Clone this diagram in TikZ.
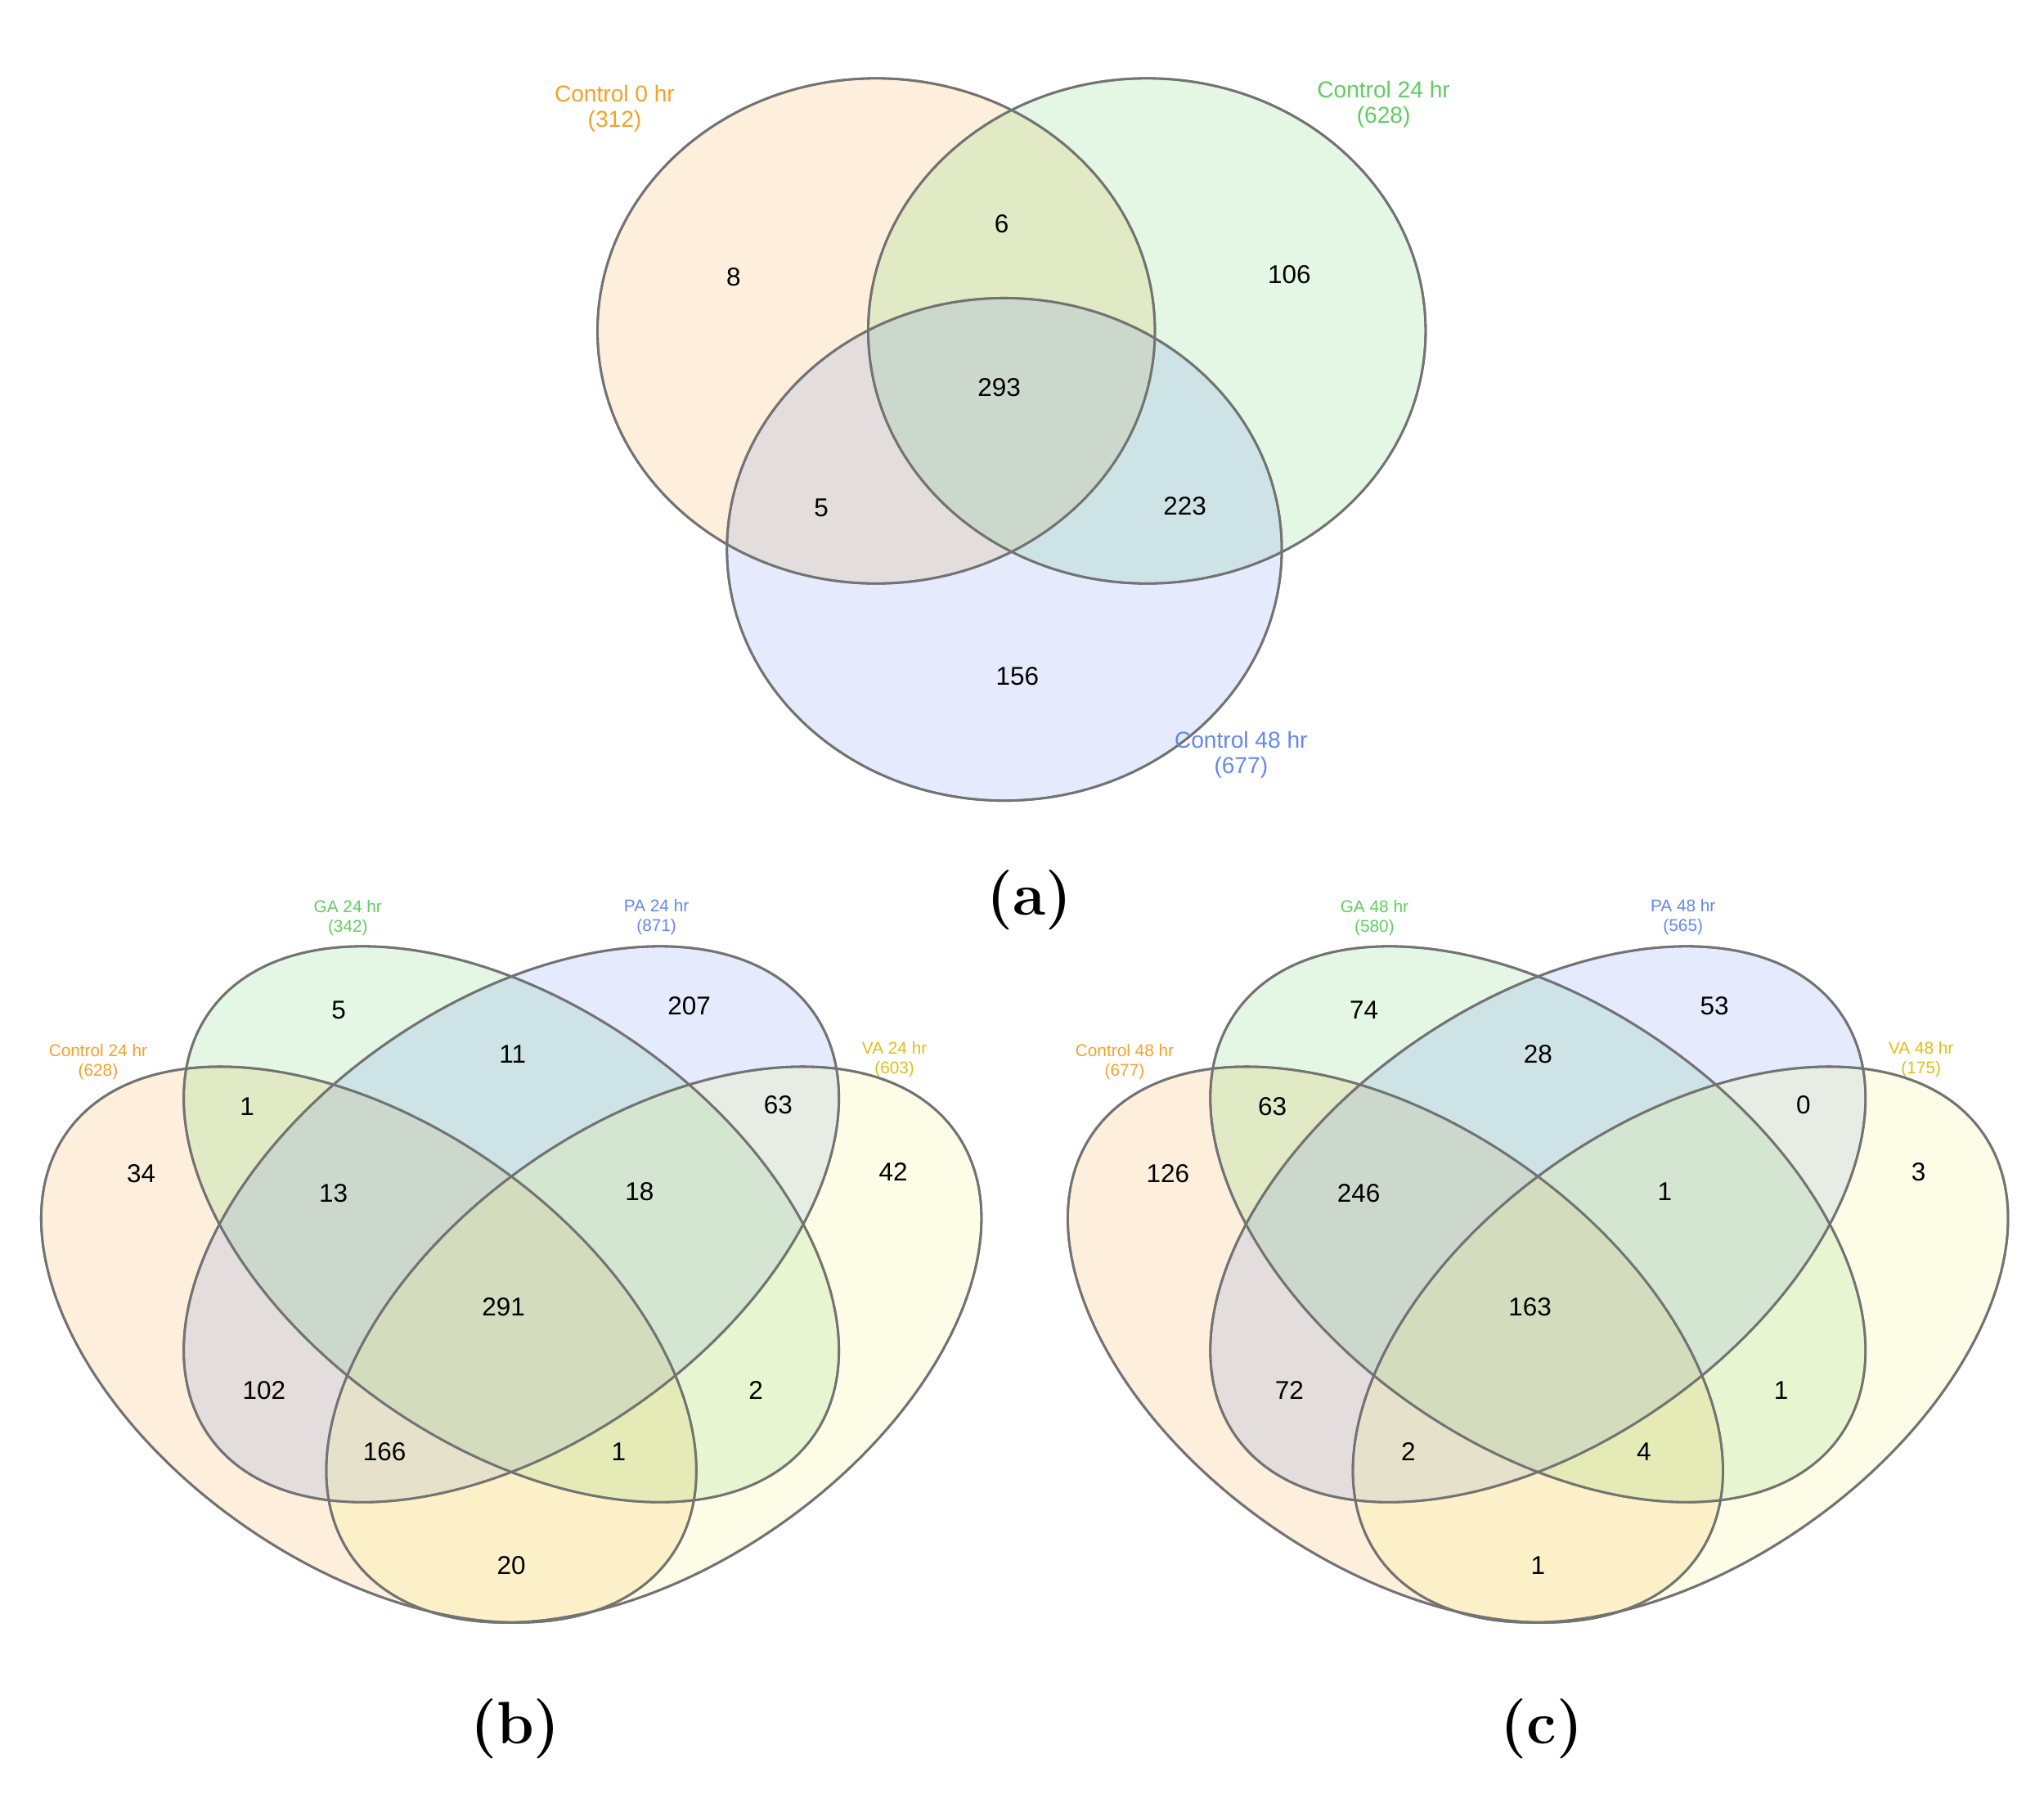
\documentclass[tikz,border=0pt]{standalone}
\usepackage{fontspec}
\setmainfont{Liberation Sans}
\newfontfamily\panelfont{Latin Modern Roman}
\usetikzlibrary{positioning}
\definecolor{ctl_orange}{RGB}{246,160,40}
\definecolor{ga_green}{RGB}{95,205,95}
\definecolor{pa_blue}{RGB}{100,135,240}
\definecolor{va_yellow}{RGB}{225,190,20}
\definecolor{fill_yellow}{RGB}{245,245,110}
\definecolor{edge_grey}{RGB}{115,115,115}

\begin{document}
\begin{tikzpicture}[
                        x=0.01cm, y=-0.01cm,
                        set/.style={draw=edge_grey, line width=0.5pt, fill opacity=0.17},
                        count/.style={font=\fontsize{5.6}{6}\selectfont, inner sep=0pt},
                        big_label/.style={font=\fontsize{5}{5.6}\selectfont, align=center, inner sep=0pt},
                        small_label/.style={font=\fontsize{3.7}{4.2}\selectfont, align=center, inner sep=0pt},
                        panel/.style={font=\panelfont\bfseries\fontsize{13}{15}\selectfont, inner sep=0pt},
                    ]
                        \useasboundingbox (0,0) rectangle (1563,1378);

                        % panel a
                        \fill[set, fill=ctl_orange] (670,253) ellipse [x radius=2.13cm, y radius=1.93cm];
                        \fill[set, fill=ga_green] (877,253) ellipse [x radius=2.13cm, y radius=1.93cm];
                        \fill[set, fill=pa_blue] (768,420) ellipse [x radius=2.12cm, y radius=1.92cm];
                        \draw[set] (670,253) ellipse [x radius=2.13cm, y radius=1.93cm];
                        \draw[set] (877,253) ellipse [x radius=2.13cm, y radius=1.93cm];
                        \draw[set] (768,420) ellipse [x radius=2.12cm, y radius=1.92cm];

                        \node[big_label, ctl_orange] (ctl0_label) at (470,83) {Control 0 hr\\(312)};
                        \node[big_label, ga_green] (ctl24_label) at (1058,80) {Control 24 hr\\(628)};
                        \node[big_label, pa_blue] (ctl48_label) at (949,577) {Control 48 hr\\(677)};
                        \foreach \name/\pos/\val in {a_only0/{(561,212)}/8, a_01/{(766,171)}/6, a_only24/{(986,210)}/106,
                                a_all/{(764,296)}/293, a_048/{(628,388)}/5, a_2448/{(906,387)}/223, a_only48/{(778,517)}/156} {
                            \node[count] (\name) at \pos {\val};
                        }
                        \node[panel] (panel_a) at (787,688) {(a)};

                        % panels b and c
                        \foreach \shiftx/\tag/\hr/\nctl/\nga/\npa/\nva in {0/b/24/628/342/871/603, 785/c/48/677/580/565/175} {
                            \begin{scope}[shift={(\shiftx,0)}]
                                \fill[set, fill=ctl_orange, rotate around={-35:(282,1028)}] (282,1028) ellipse [x radius=2.82cm, y radius=1.68cm];
                                \fill[set, fill=ga_green, rotate around={-35:(391,936)}] (391,936) ellipse [x radius=2.82cm, y radius=1.68cm];
                                \fill[set, fill=pa_blue, rotate around={35:(391,936)}] (391,936) ellipse [x radius=2.82cm, y radius=1.68cm];
                                \fill[set, fill=fill_yellow, rotate around={35:(500,1028)}] (500,1028) ellipse [x radius=2.82cm, y radius=1.68cm];
                                \draw[set, rotate around={-35:(282,1028)}] (282,1028) ellipse [x radius=2.82cm, y radius=1.68cm];
                                \draw[set, rotate around={-35:(391,936)}] (391,936) ellipse [x radius=2.82cm, y radius=1.68cm];
                                \draw[set, rotate around={35:(391,936)}] (391,936) ellipse [x radius=2.82cm, y radius=1.68cm];
                                \draw[set, rotate around={35:(500,1028)}] (500,1028) ellipse [x radius=2.82cm, y radius=1.68cm];

                                \node[small_label, ctl_orange] (ctl_label_\tag) at (75,812) {Control \hr\ hr\\(\nctl)};
                                \node[small_label, ga_green] (ga_label_\tag) at (266,702) {GA \hr\ hr\\(\nga)};
                                \node[small_label, pa_blue] (pa_label_\tag) at (502,701) {PA \hr\ hr\\(\npa)};
                                \node[small_label, va_yellow] (va_label_\tag) at (684,810) {VA \hr\ hr\\(\nva)};
                                \node[panel] (panel_\tag) at (394,1322) {(\tag)};
                            \end{scope}
                        }

                        % counts b
                        \foreach \name/\pos/\val in {b1/{(259,772)}/5, b2/{(527,769)}/207, b3/{(392,806)}/11, b4/{(189,846)}/1,
                                b5/{(595,845)}/63, b6/{(108,897)}/34, b7/{(255,912)}/13, b8/{(489,911)}/18, b9/{(683,896)}/42,
                                b10/{(385,999)}/291, b11/{(202,1063)}/102, b12/{(578,1063)}/2, b13/{(294,1110)}/166,
                                b14/{(473,1110)}/1, b15/{(391,1197)}/20} {
                            \node[count] (\name) at \pos {\val};
                        }
                        % counts c
                        \foreach \name/\pos/\val in {c1/{(1043,772)}/74, c2/{(1311,769)}/53, c3/{(1176,806)}/28, c4/{(973,846)}/63,
                                c5/{(1379,845)}/0, c6/{(893,897)}/126, c7/{(1039,912)}/246, c8/{(1273,911)}/1, c9/{(1467,896)}/3,
                                c10/{(1170,999)}/163, c11/{(986,1063)}/72, c12/{(1362,1063)}/1, c13/{(1077,1110)}/2,
                                c14/{(1257,1110)}/4, c15/{(1176,1197)}/1} {
                            \node[count] (\name) at \pos {\val};
                        }
                    \end{tikzpicture}
\end{document}
